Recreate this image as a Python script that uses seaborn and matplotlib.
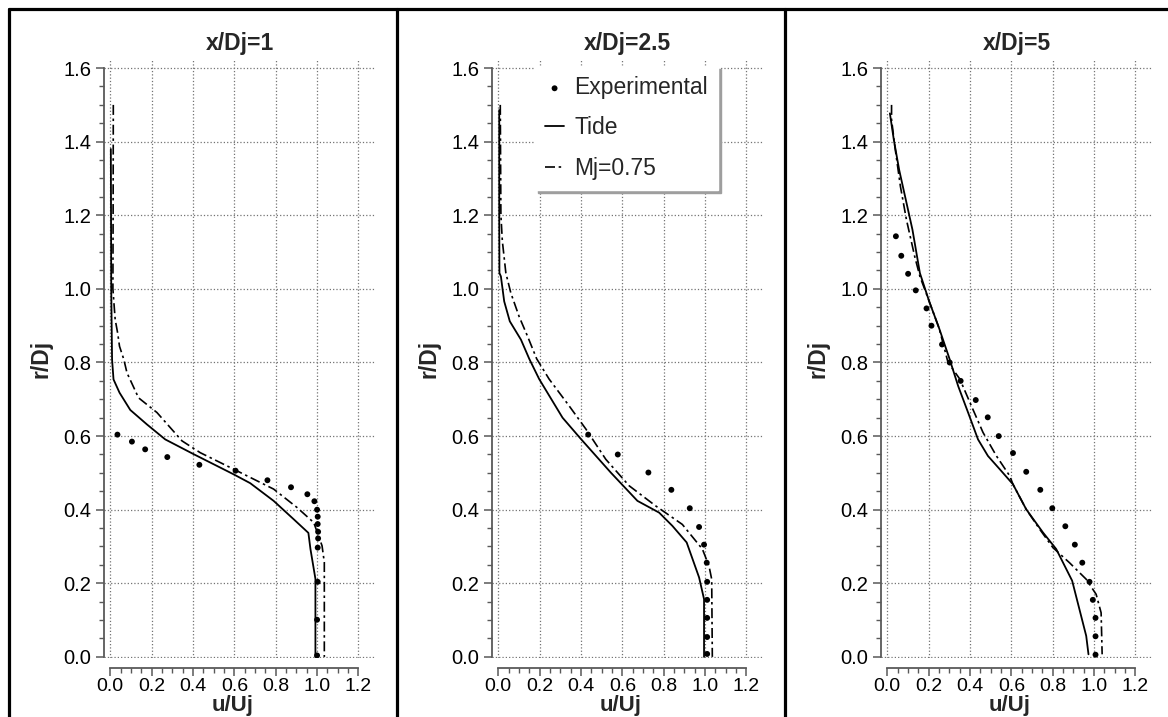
import numpy as np
import pandas as pd
import matplotlib
matplotlib.use("Agg")
import matplotlib.pyplot as plt
from matplotlib.lines import Line2D
from matplotlib.ticker import MultipleLocator, FixedLocator
import seaborn as sns

# ---------------- data (u/Uj, r/Dj) ----------------
titles = ["x/Dj=1", "x/Dj=2.5", "x/Dj=5"]
legend_labels = ["Experimental", "Tide", "Mj=0.75"]

# x/Dj = 1
exp1_u = [0.035, 0.105, 0.169, 0.276, 0.431, 0.606, 0.76, 0.874, 0.953, 0.987,
          1.0, 1.003, 1.003, 1.005, 1.005, 1.003, 1.003, 1.0, 1.0]
exp1_r = [0.604, 0.585, 0.564, 0.543, 0.522, 0.506, 0.48, 0.461, 0.442, 0.423,
          0.40, 0.381, 0.361, 0.34, 0.322, 0.297, 0.204, 0.101, 0.004]
tide1_u = [0.003, 0.004, 0.005, 0.007, 0.009, 0.016, 0.045, 0.097, 0.177, 0.266,
           0.403, 0.597, 0.677, 0.79, 0.887, 0.958, 0.968, 0.992, 0.992]
tide1_r = [1.38, 1.2, 1.0, 0.9, 0.808, 0.754, 0.718, 0.671, 0.632, 0.591,
           0.551, 0.496, 0.472, 0.424, 0.374, 0.337, 0.293, 0.212, 0.0]
mj1_u = [0.015, 0.014, 0.013, 0.024, 0.036, 0.045, 0.066, 0.081, 0.137, 0.226,
         0.347, 0.435, 0.597, 0.79, 0.903, 0.984, 1.024, 1.035, 1.035]
mj1_r = [1.50, 1.2, 1.0, 0.917, 0.880, 0.844, 0.808, 0.772, 0.704, 0.664,
         0.587, 0.555, 0.51, 0.456, 0.406, 0.365, 0.302, 0.257, 0.0]

# x/Dj = 2.5
exp2_u = [0.435, 0.578, 0.726, 0.837, 0.926, 0.971, 0.995, 1.008, 1.01, 1.01,
          1.01, 1.01, 1.01]
exp2_r = [0.604, 0.55, 0.501, 0.454, 0.404, 0.353, 0.305, 0.256, 0.204, 0.155,
          0.106, 0.054, 0.008]
tide2_u = [0.005, 0.005, 0.006, 0.013, 0.029, 0.056, 0.11, 0.15, 0.198, 0.311,
           0.4, 0.544, 0.673, 0.778, 0.842, 0.911, 0.971, 0.995, 0.995]
tide2_r = [1.486, 1.2, 1.043, 1.034, 0.966, 0.912, 0.862, 0.81, 0.755, 0.65,
           0.592, 0.501, 0.424, 0.392, 0.356, 0.311, 0.216, 0.157, 0.0]
mj2_u = [0.01, 0.013, 0.02, 0.037, 0.061, 0.101, 0.142, 0.186, 0.246, 0.343,
         0.424, 0.52, 0.633, 0.762, 0.89, 0.987, 1.019, 1.032, 1.035]
mj2_r = [1.50, 1.2, 1.13, 1.043, 0.989, 0.925, 0.871, 0.81, 0.755, 0.682,
         0.619, 0.537, 0.465, 0.41, 0.36, 0.293, 0.247, 0.211, 0.0]

# x/Dj = 5
exp3_u = [0.042, 0.068, 0.101, 0.138, 0.19, 0.214, 0.265, 0.302, 0.355, 0.428,
          0.486, 0.539, 0.608, 0.672, 0.74, 0.798, 0.861, 0.907, 0.943, 0.978,
          0.994, 1.007, 1.007, 1.007]
exp3_r = [1.143, 1.09, 1.041, 0.996, 0.947, 0.9, 0.849, 0.8, 0.75, 0.698,
          0.651, 0.6, 0.554, 0.503, 0.454, 0.404, 0.355, 0.305, 0.256, 0.204,
          0.155, 0.106, 0.056, 0.006]
tide3_u = [0.013, 0.032, 0.058, 0.09, 0.122, 0.158, 0.203, 0.251, 0.3, 0.343,
           0.391, 0.439, 0.487, 0.544, 0.608, 0.672, 0.753, 0.817, 0.894, 0.962,
           0.973]
tide3_r = [1.477, 1.405, 1.323, 1.242, 1.161, 1.043, 0.966, 0.893, 0.812, 0.736,
           0.664, 0.591, 0.546, 0.51, 0.469, 0.401, 0.338, 0.293, 0.207, 0.057,
           0.007]
mj3_u = [0.021, 0.021, 0.037, 0.064, 0.093, 0.133, 0.158, 0.203, 0.251, 0.294,
         0.351, 0.407, 0.463, 0.528, 0.592, 0.608, 0.672, 0.737, 0.801, 0.881,
         0.962, 1.01, 1.034, 1.039]
mj3_r = [1.50, 1.46, 1.387, 1.278, 1.188, 1.088, 1.034, 0.966, 0.893, 0.8,
         0.755, 0.682, 0.61, 0.546, 0.492, 0.469, 0.401, 0.347, 0.297, 0.256,
         0.211, 0.17, 0.12, 0.007]

panels = [
    (exp1_u, exp1_r, tide1_u, tide1_r, mj1_u, mj1_r),
    (exp2_u, exp2_r, tide2_u, tide2_r, mj2_u, mj2_r),
    (exp3_u, exp3_r, tide3_u, tide3_r, mj3_u, mj3_r),
]

# ---------------- style ----------------
sns.set_theme(style="ticks")
plt.rcParams["font.family"] = ["Liberation Sans", "DejaVu Sans"]
plt.rcParams["axes.edgecolor"] = "0.35"
plt.rcParams["xtick.color"] = "0.35"
plt.rcParams["ytick.color"] = "0.35"
plt.rcParams["xtick.labelcolor"] = "black"
plt.rcParams["ytick.labelcolor"] = "black"

W, H = 1168, 717
fig = plt.figure(figsize=(W / 100, H / 100), dpi=100)

ax_lefts = [104, 492, 881]
ax_w = 271
ax_top, ax_bot = 60, 658
dashdot = (0, (6, 2.2, 1.5, 2.2))

for i, (ax_l, data, title) in enumerate(zip(ax_lefts, panels, titles)):
    eu, er, tu, tr, mu, mr = data
    ax = fig.add_axes([ax_l / W, (H - ax_bot) / H, ax_w / W, (ax_bot - ax_top) / H])
    ax.grid(True, which="major", linestyle=":", color="0.45", linewidth=0.9)
    ax.set_axisbelow(True)

    sns.scatterplot(x=eu, y=er, ax=ax, color="black", s=18, edgecolor="none",
                    label=legend_labels[0], zorder=3)
    sns.lineplot(x=tu, y=tr, ax=ax, sort=False, estimator=None, color="black",
                 linewidth=1.3, label=legend_labels[1], zorder=3)
    sns.lineplot(x=mu, y=mr, ax=ax, sort=False, estimator=None, color="black",
                 linewidth=1.2, linestyle=dashdot, label=legend_labels[2], zorder=3)

    ax.set_xlim(-0.03, 1.28)
    ax.set_ylim(-0.003, 1.622)
    ax.xaxis.set_major_locator(MultipleLocator(0.2))
    ax.xaxis.set_minor_locator(FixedLocator(np.arange(0, 1.2001, 0.05)))
    ax.yaxis.set_major_locator(MultipleLocator(0.2))
    ax.yaxis.set_minor_locator(FixedLocator(np.arange(0, 1.6001, 0.05)))
    ax.tick_params(axis="both", which="major", length=6, width=1.1,
                   labelsize=14.5, pad=3)
    ax.tick_params(axis="x", which="major", labelsize=14, pad=1.5)
    ax.tick_params(axis="both", which="minor", length=3.5, width=1.0)
    ax.xaxis.set_major_formatter(plt.FuncFormatter(lambda v, p: f"{v:.1f}"))
    ax.yaxis.set_major_formatter(plt.FuncFormatter(lambda v, p: f"{v:.1f}"))

    sns.despine(ax=ax, offset={"left": 0, "bottom": 7}, trim=True)
    for s in ("left", "bottom"):
        ax.spines[s].set_linewidth(1.3)

    ax.set_title(title, fontsize=16.5, fontweight="bold", pad=7)
    ax.set_xlabel("u/Uj", fontsize=16, fontweight="bold")
    ax.set_ylabel("r/Dj", fontsize=16.5, fontweight="bold", labelpad=8)
    ax.xaxis.set_label_coords(0.476, -0.0625)

    if i == 1:
        leg = ax.legend(loc="upper left", bbox_to_anchor=(0.159, 0.99),
                        borderaxespad=0, fontsize=16.5, frameon=True,
                        fancybox=False, framealpha=1, edgecolor="white",
                        facecolor="white", shadow={"color": "0.62", "alpha": 1},
                        handlelength=0.8, handletextpad=0.45,
                        labelspacing=0.75, borderpad=0.45, markerscale=1.0)
        leg.set_zorder(5)
    else:
        lg = ax.get_legend()
        if lg is not None:
            lg.remove()

# panel borders
lw_b = 2.3
fig.add_artist(Line2D([8.5 / W, 1.0], [1 - 9 / H, 1 - 9 / H], color="black",
                      linewidth=lw_b, transform=fig.transFigure))
for xb in (8.5, 396.5, 785):
    fig.add_artist(Line2D([xb / W, xb / W], [0, 1 - 9 / H], color="black",
                          linewidth=lw_b, transform=fig.transFigure))

fig.savefig("out.png", dpi=100)
